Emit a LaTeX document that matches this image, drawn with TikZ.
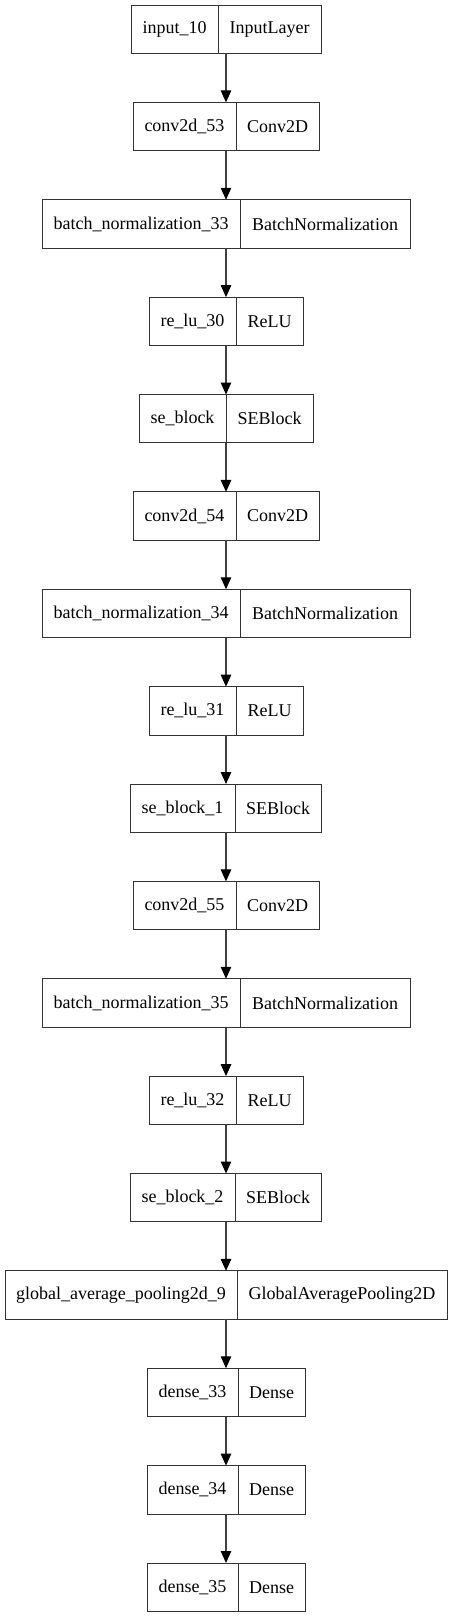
\documentclass[tikz,border=0pt]{standalone}
\usepackage{fontspec}
\setmainfont{Liberation Serif}
\usetikzlibrary{arrows.meta}
\tikzset{
  fieldbox/.style={draw=black!80, line width=1pt, inner sep=0pt, outer sep=0pt,
    minimum height=48.4pt, font=\fontsize{18}{20}\selectfont, text=black},
  conn/.style={draw=black!75, line width=1.2pt, -{Triangle[length=12pt,width=10.5pt,fill=black,color=black]}}
}
\newcommand{\layer}[7]{%
  \pgfmathsetmacro\yc{-(5+97.375*#2+24.2)}%
  \pgfmathsetmacro\wl{#4-#3}%
  \pgfmathsetmacro\wr{#5-#4}%
  \node[fieldbox, minimum width=\wl pt, anchor=west] (#1l) at (#3,\yc) {#6};
  \node[fieldbox, minimum width=\wr pt, anchor=west] (#1r) at (#4,\yc) {#7};
}
\begin{document}
\begin{tikzpicture}[x=1pt,y=1pt]
\useasboundingbox[fill=white] (0,0) rectangle (452,-1617);
\coordinate (ax) at (226,0);
\layer{a}{0}{131}{218}{321}{input\_10}{InputLayer}
\layer{b}{1}{133}{236}{319}{conv2d\_53}{Conv2D}
\layer{c}{2}{42}{240}{410}{batch\_normalization\_33}{BatchNormalization}
\layer{d}{3}{149}{236}{303}{re\_lu\_30}{ReLU}
\layer{e}{4}{139}{226}{313}{se\_block}{SEBlock}
\layer{f}{5}{133}{236}{319}{conv2d\_54}{Conv2D}
\layer{g}{6}{42}{240}{410}{batch\_normalization\_34}{BatchNormalization}
\layer{h}{7}{149}{236}{303}{re\_lu\_31}{ReLU}
\layer{i}{8}{130}{235}{321}{se\_block\_1}{SEBlock}
\layer{j}{9}{133}{236}{319}{conv2d\_55}{Conv2D}
\layer{k}{10}{42}{240}{410}{batch\_normalization\_35}{BatchNormalization}
\layer{m}{11}{149}{236}{303}{re\_lu\_32}{ReLU}
\layer{n}{12}{130}{235}{321}{se\_block\_2}{SEBlock}
\layer{o}{13}{5}{237}{447}{global\_average\_pooling2d\_9}{GlobalAveragePooling2D}
\layer{p}{14}{147}{238}{305}{dense\_33}{Dense}
\layer{q}{15}{147}{238}{305}{dense\_34}{Dense}
\layer{r}{16}{147}{238}{305}{dense\_35}{Dense}
\foreach \u/\v in {a/b,b/c,c/d,d/e,e/f,f/g,g/h,h/i,i/j,j/k,k/m,m/n,n/o,o/p,p/q,q/r}{
  \draw[conn] (\u l.south -| ax) -- (\v l.north -| ax);
}
\end{tikzpicture}
\end{document}
